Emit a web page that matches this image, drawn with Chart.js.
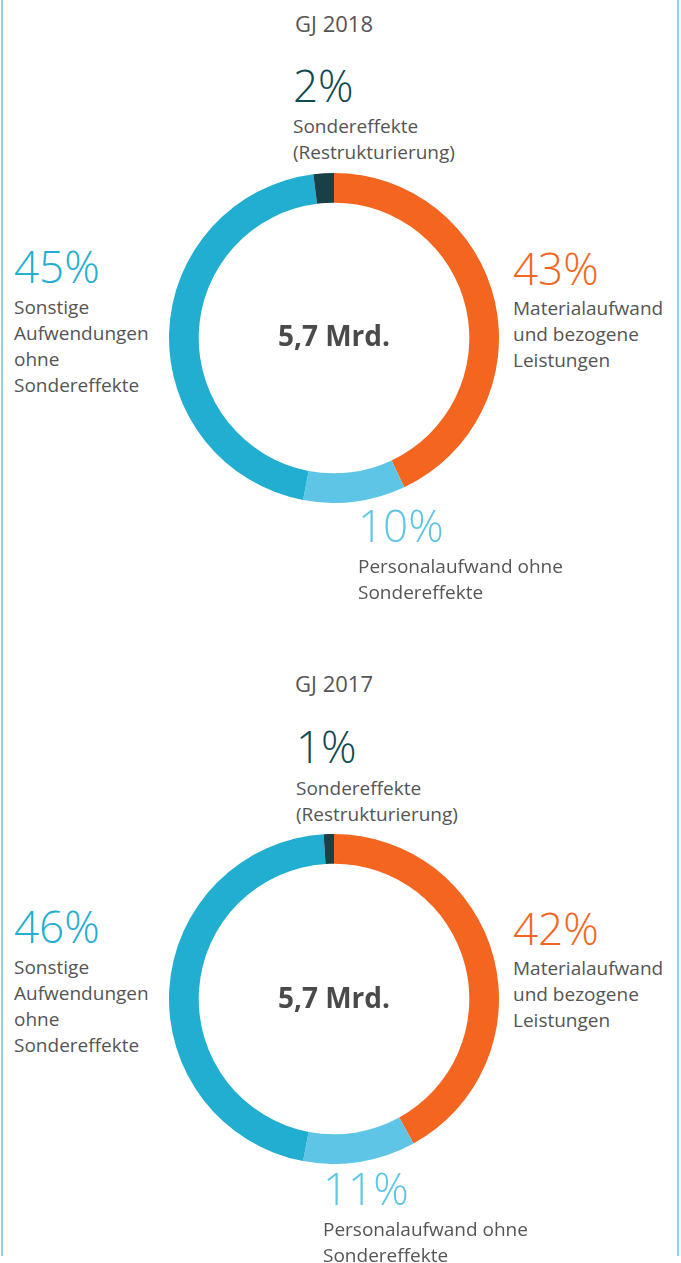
<!DOCTYPE html>
<html>
<head>
<meta charset="utf-8">
<script src="https://cdn.jsdelivr.net/npm/chart.js@4/dist/chart.umd.min.js"></script>
<style>
  body { margin: 0; background: #fff; }
  #page { position: relative; width: 681px; height: 1263px; overflow: hidden; font-family: "Open Sans", "Noto Sans", sans-serif; color: #555; }
  #frame { position: absolute; left: 1px; top: 0; width: 674px; height: 1256px; border-left: 2px solid #8fd4ec; border-right: 2px solid #8fd4ec; }
  canvas { position: absolute; }
  .lbl { position: absolute; white-space: nowrap; }
  .pct { font-size: 44px; line-height: 44px; font-weight: 300; }
  .txt { font-size: 19px; line-height: 26px; }
  .year { position: absolute; font-size: 22px; line-height: 26px; text-align: center; width: 330px; }
  .total { position: absolute; font-size: 28px; line-height: 28px; font-weight: 700; color: #4a4a4a; text-align: center; width: 330px; }
</style>
</head>
<body>
<div id="page">
  <div id="frame"></div>
</div>
<script>
// Daten
const jahre = ['GJ 2018', 'GJ 2017'];
const summen = ['5,7 Mrd.', '5,7 Mrd.'];
const kategorien = [
  ['Materialaufwand', 'und bezogene', 'Leistungen'],
  ['Personalaufwand ohne', 'Sondereffekte'],
  ['Sonstige', 'Aufwendungen', 'ohne', 'Sondereffekte'],
  ['Sondereffekte', '(Restrukturierung)']
];
const werte2018 = [43, 10, 45, 2];
const werte2017 = [42, 11, 46, 1];

const farben = ['#f4661f', '#5ec5e6', '#22aed1', '#1a3f47'];
const textFarben = ['#f4661f', '#5ec5e6', '#22aed1', '#0f4a50'];

// Position der Diagramme und Beschriftungen (Prozent-Oberkante, Text-Oberkante)
const layout = [
  {
    werte: werte2018, canvasTop: 173, yearTop: 10, totalTop: 321,
    labels: [
      { left: 513, pct: 246, txt: 295 },
      { left: 358, pct: 503, txt: 553 },
      { left: 14, pct: 244, txt: 294 },
      { left: 293, pct: 63, txt: 113 }
    ]
  },
  {
    werte: werte2017, canvasTop: 834, yearTop: 670, totalTop: 983,
    labels: [
      { left: 513, pct: 906, txt: 955 },
      { left: 323, pct: 1166, txt: 1216 },
      { left: 14, pct: 904, txt: 954 },
      { left: 296, pct: 724, txt: 775 }
    ]
  }
];

const page = document.getElementById('page');

layout.forEach((l, i) => {
  const canvas = document.createElement('canvas');
  canvas.width = 330;
  canvas.height = 330;
  canvas.style.left = '169px';
  canvas.style.top = l.canvasTop + 'px';
  page.appendChild(canvas);

  new Chart(canvas.getContext('2d'), {
    type: 'doughnut',
    data: {
      labels: kategorien.map(k => k.join(' ')),
      datasets: [{
        data: l.werte,
        backgroundColor: farben,
        borderWidth: 0
      }]
    },
    options: {
      responsive: false,
      animation: false,
      cutout: '82%',
      plugins: { legend: { display: false }, tooltip: { enabled: false } }
    }
  });

  const year = document.createElement('div');
  year.className = 'year';
  year.style.left = '169px';
  year.style.top = l.yearTop + 'px';
  year.textContent = jahre[i];
  page.appendChild(year);

  const total = document.createElement('div');
  total.className = 'total';
  total.style.left = '169px';
  total.style.top = l.totalTop + 'px';
  total.textContent = summen[i];
  page.appendChild(total);

  l.labels.forEach((p, j) => {
    const pct = document.createElement('div');
    pct.className = 'lbl pct';
    pct.style.left = p.left + 'px';
    pct.style.top = p.pct + 'px';
    pct.style.color = textFarben[j];
    pct.textContent = l.werte[j] + '%';
    page.appendChild(pct);

    const txt = document.createElement('div');
    txt.className = 'lbl txt';
    txt.style.left = p.left + 'px';
    txt.style.top = p.txt + 'px';
    txt.innerHTML = kategorien[j].join('<br>');
    page.appendChild(txt);
  });
});
</script>
</body>
</html>
